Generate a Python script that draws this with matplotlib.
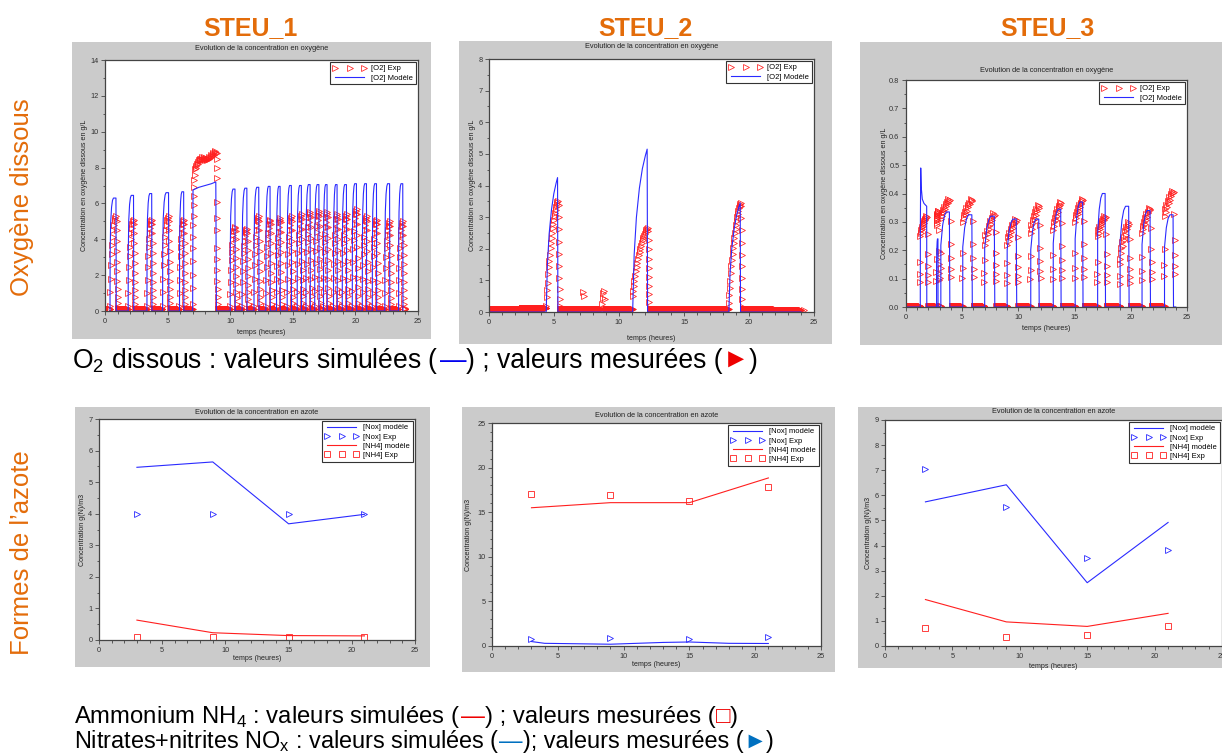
import numpy as np
import matplotlib.pyplot as plt
from matplotlib.patches import Rectangle
from matplotlib.ticker import MultipleLocator
from matplotlib import font_manager

plt.rcParams['font.family'] = ['Liberation Sans', 'DejaVu Sans']

W, H = 1222, 753
ORANGE = '#e36c0a'
GREY = '#cbcbcb'
BLUE = '#2a2aff'
RED = '#ff1f1f'

#%% ---------------- data --------------------------------------
# --- oxygen, STEU_1 : aeration cycles (h) and model / measured peaks (g/L)
o2_1_on = [0.4, 1.85, 3.35, 4.6, 5.95, 10.0, 10.95, 11.9, 12.85, 13.7, 14.55, 15.35,
           16.05, 16.75, 17.45, 18.25, 18.95, 19.75, 20.55, 21.35, 22.35, 23.45]
o2_1_off = [0.9, 2.3, 3.75, 5.1, 6.3, 10.4, 11.35, 12.3, 13.2, 14.0, 14.9, 15.7,
            16.4, 17.1, 17.75, 18.55, 19.3, 20.1, 20.9, 21.7, 22.75, 23.8]
o2_1_mod_peak = [6.3, 6.45, 6.55, 6.6, 6.65, 6.8, 6.85, 6.9, 6.95, 6.95, 7.0, 7.0,
                 7.05, 7.05, 7.05, 7.05, 7.05, 7.1, 7.1, 7.1, 7.1, 7.1]
o2_1_exp_peak = [5.3, 5.1, 5.1, 5.3, 5.1, 4.7, 4.6, 5.3, 5.1, 5.2, 5.3, 5.4,
                 5.5, 5.6, 5.5, 5.4, 5.4, 5.7, 5.3, 5.1, 5.0, 5.0]
o2_1_base = 0.13
# long aeration between 7 h and 9 h
o2_1_long_t = [7.0, 7.03, 7.5, 8.0, 8.5, 8.85, 8.9]
o2_1_long_mod = [0.0, 6.75, 6.9, 7.0, 7.1, 7.2, 0.0]
o2_1_long_rise = [0.4, 1.3, 2.0, 2.8, 3.5, 4.1, 4.8, 5.3, 5.9, 6.4, 6.9, 7.3]
o2_1_long_plateau = [7.6, 7.9, 8.1, 8.0, 8.2, 8.3, 8.2, 8.4, 8.5, 8.4, 8.5, 8.6, 8.5, 8.4,
                     8.5, 8.6, 8.5, 8.45, 8.55, 8.5, 8.4, 8.5, 8.6, 8.5, 8.55, 8.6, 8.7,
                     8.65, 8.75, 8.8, 8.7, 8.85, 8.9, 8.8]
o2_1_long_fall = [8.8, 8.5, 8.0, 7.4, 6.1, 5.2, 4.5, 3.5, 2.9, 2.3, 1.7, 1.2, 0.8, 0.4]

# --- oxygen, STEU_2
o2_2_on = [4.4, 11.05, 18.45]
o2_2_off = [5.3, 12.2, 19.35]
o2_2_mod_peak = [4.25, 5.15, 3.45]
o2_2_exp_lo = [0.2, 0.5, 0.3]
o2_2_exp_peak = [3.5, 2.65, 3.45]
o2_2_base_start = [0.0, 2.5, 5.45, 8.95, 12.45, 19.5, 22.0]
o2_2_base_end = [2.5, 4.4, 8.65, 11.05, 18.45, 22.0, 24.0]
o2_2_base_level = [0.09, 0.12, 0.11, 0.09, 0.09, 0.09, 0.06]
o2_2_blip_t = [7.25, 7.3, 8.7, 8.75, 8.8, 8.85, 8.9, 24.2]
o2_2_blip_v = [0.62, 0.52, 0.25, 0.45, 0.6, 0.65, 0.4, 0.05]

# --- oxygen, STEU_3
o2_3_on = [2.72, 3.1, 5.05, 7.0, 9.0, 11.1, 13.1, 15.05, 17.05, 19.05, 21.0, 23.0]
o2_3_off = [2.85, 3.9, 5.9, 7.9, 9.85, 11.85, 13.8, 15.75, 17.75, 19.85, 21.75, 23.8]
o2_3_mod_peak = [0.24, 0.335, 0.325, 0.32, 0.31, 0.31, 0.345, 0.37, 0.40, 0.355, 0.34, 0.325]
o2_3_first_t = [1.27, 1.28, 1.31, 1.36, 1.45, 1.6, 1.84, 1.85]
o2_3_first_mod = [0.0, 0.3, 0.49, 0.42, 0.38, 0.365, 0.355, 0.0]
o2_3_exp_on = [1.27] + o2_3_on
o2_3_exp_off = [1.85] + o2_3_off
o2_3_exp_lo = [0.25, 0.29, 0.31, 0.30, 0.22, 0.22, 0.26, 0.27, 0.30, 0.25, 0.17, 0.26, 0.32]
o2_3_exp_hi = [0.32, 0.34, 0.38, 0.38, 0.33, 0.31, 0.36, 0.37, 0.38, 0.32, 0.30, 0.35, 0.41]
o2_3_base = 0.004

# typical cycle shapes (fraction of cycle duration / fraction of peak)
shape_1_t = [0, 0.02, 0.1, 0.25, 0.4, 0.55, 0.95, 1.0]
shape_1_v = [0, 0.5, 0.78, 0.92, 0.98, 1.0, 1.0, 0]
shape_2_t = [0, 0.1, 0.25, 0.45, 0.65, 0.85, 0.97, 1.0]
shape_2_v = [0, 0.35, 0.58, 0.76, 0.88, 0.96, 1.0, 0]
shape_3_t = [0, 0.0, 0.2, 0.4, 0.6, 0.95, 1.0]
shape_3_v = [0, 0.65, 0.86, 0.96, 1.0, 1.0, 0]
# measured points inside a cycle (rise, then fall just after the aeration stops)
rise_1_t = [0.0, 0.05, 0.12, 0.2, 0.28, 0.36, 0.45, 0.55, 0.65, 0.75, 0.87, 1.0]
rise_1_v = [0.0, 0.15, 0.3, 0.45, 0.58, 0.68, 0.77, 0.84, 0.9, 0.95, 0.98, 1.0]
fall_1_dt = [0.03, 0.04, 0.05, 0.06, 0.07, 0.08, 0.09, 0.1, 0.11, 0.12, 0.13]
fall_1_v = [0.95, 0.85, 0.74, 0.63, 0.52, 0.42, 0.32, 0.23, 0.15, 0.08, 0.03]
rise_2_t = [0.0, 0.04, 0.08, 0.12, 0.17, 0.22, 0.27, 0.32, 0.37, 0.42, 0.47, 0.52,
            0.57, 0.62, 0.67, 0.72, 0.77, 0.82, 0.87, 0.92, 0.96, 1.0]
rise_2_v = [0.0, 0.08, 0.15, 0.22, 0.3, 0.37, 0.43, 0.49, 0.55, 0.6, 0.65, 0.7,
            0.74, 0.78, 0.82, 0.86, 0.89, 0.92, 0.95, 0.97, 0.99, 1.0]
fall_2_dt = [0.06, 0.07, 0.08, 0.09, 0.1, 0.11, 0.12, 0.13, 0.14, 0.15]
fall_2_v = [0.97, 0.86, 0.75, 0.63, 0.52, 0.42, 0.31, 0.21, 0.12, 0.05]
rise_3_t = [0.0, 0.08, 0.15, 0.22, 0.3, 0.38, 0.45, 0.52, 0.6, 0.68, 0.76, 0.84, 0.92, 1.0]
rise_3_v = [0.0, 0.3, 0.15, 0.45, 0.35, 0.6, 0.5, 0.75, 0.65, 0.85, 0.8, 1.0, 0.9, 0.95]
lead_3_dt = [-0.04, -0.02, 0.0]
lead_3_v = [0.27, 0.36, 0.5]
fall_3_dt = [0.08, 0.09, 0.1, 0.11, 0.12]
fall_3_v = [0.8, 0.58, 0.45, 0.35, 0.28]
step_meas = 1 / 60.0   # probe logging step (h)

# --- nitrogen
t_n = [3, 9, 15, 21]
nox_mod_1 = [5.47, 5.64, 3.68, 3.98]
nox_exp_1 = [4.0, 4.0, 4.0, 4.0]
nh4_mod_1 = [0.63, 0.23, 0.14, 0.13]
nh4_exp_1 = [0.09, 0.09, 0.09, 0.09]
t_nox_mod_2 = [3, 4, 9, 11, 13, 15, 18, 21]
nox_mod_2 = [0.5, 0.3, 0.2, 0.3, 0.4, 0.45, 0.3, 0.28]
nox_exp_2 = [0.75, 0.9, 0.82, 1.05]
nh4_mod_2 = [15.5, 16.07, 16.07, 18.84]
nh4_exp_2 = [17.05, 16.95, 16.3, 17.8]
nox_mod_3 = [5.74, 6.42, 2.52, 4.92]
nox_exp_3 = [7.05, 5.53, 3.52, 3.84]
nh4_mod_3 = [1.85, 0.96, 0.78, 1.3]
nh4_exp_3 = [0.73, 0.36, 0.45, 0.8]


#%% ---------------- helpers ----------------
def cycles_model(on, off, peak, tf, vf):
    segs = []
    for a, b, p in zip(on, off, peak):
        segs.append(([a + (b - a) * t for t in tf], [p * v for v in vf]))
    return segs


def join(segs):
    xs, ys = [], []
    for sx, sy in sorted(segs, key=lambda s: s[0][0]):
        xs += sx
        ys += sy
    return xs, ys


def cycles_exp(on, off, lo, hi, rt, rv, fdt, fv, ldt=(), lv=()):
    xs, ys = [], []
    for a, b, l, h in zip(on, off, lo, hi):
        xs += [a + d for d in ldt]
        ys += [h * v for v in lv]
        xs += [a + (b - a) * t for t in rt]
        ys += [l + (h - l) * v for v in rv]
        xs += [b + d for d in fdt]
        ys += [h * v for v in fv]
    return xs, ys


def baseline(starts, ends, levels):
    xs, ys = [], []
    for a, b, l in zip(starts, ends, levels):
        t = np.arange(a, b, step_meas)
        xs += list(t)
        ys += [l] * len(t)
    return xs, ys


fig = plt.figure(figsize=(W / 100, H / 100), dpi=100)

SMALL = 5.3


def panel(frame, box, ylim, ymaj, ymin, title, title_y, ylabel, ylabel_x, xlabel_y):
    gx0, gy0, gx1, gy1 = frame
    fig.patches.append(Rectangle((gx0 / W, 1 - gy1 / H), (gx1 - gx0) / W, (gy1 - gy0) / H,
                                 transform=fig.transFigure, facecolor=GREY, edgecolor='none',
                                 zorder=-5))
    x0, y0, x1, y1 = box
    ax = fig.add_axes([x0 / W, 1 - y1 / H, (x1 - x0) / W, (y1 - y0) / H])
    ax.set_zorder(3)
    ax.set_xlim(0, 25)
    ax.set_ylim(*ylim)
    ax.xaxis.set_major_locator(MultipleLocator(5))
    ax.xaxis.set_minor_locator(MultipleLocator(1))
    ax.yaxis.set_major_locator(MultipleLocator(ymaj))
    ax.yaxis.set_minor_locator(MultipleLocator(ymin))
    ax.tick_params(which='both', direction='out', top=False, right=False, width=0.6,
                   labelsize=SMALL, labelcolor='#333333', pad=1.5, color='#444444')
    ax.tick_params(which='major', length=3.2)
    ax.tick_params(which='minor', length=1.8)
    for s in ax.spines.values():
        s.set_linewidth(0.9)
        s.set_color('#444444')
    fig.text((x0 + x1) / 2 / W, 1 - title_y / H, title, ha='center', va='center',
             fontsize=SMALL, color='#222222', zorder=5)
    fig.text(ylabel_x / W, 1 - (y0 + y1) / 2 / H, ylabel, rotation=90, ha='center',
             va='center', fontsize=SMALL - 0.2, color='#222222', zorder=5)
    fig.text((x0 + x1) / 2 / W, 1 - xlabel_y / H, 'temps (heures)', ha='center',
             va='center', fontsize=SMALL - 0.2, color='#222222', zorder=5)
    return ax


def legend(ax):
    leg = ax.legend(loc='upper right', numpoints=3, fontsize=SMALL + 0.2, handlelength=4.4,
                    handletextpad=0.6, borderpad=0.35, labelspacing=0.25,
                    borderaxespad=0.3, fancybox=False, framealpha=1, edgecolor='#333333')
    leg.get_frame().set_linewidth(0.8)
    return leg


ms_o2 = dict(ls='none', marker='>', ms=3.8, mfc='none', mec=RED, mew=0.55)

#%% ---------------- oxygen panels ----------------
t_ox = 'Evolution de la concentration en oxygène'
y_ox = 'Concentration en oxygène dissous en g/L'

# STEU_1
ax = panel((72, 42, 431, 339), (105, 60, 418, 311), (0, 14), 2, 1, t_ox, 49, y_ox, 85, 332)
gaps_s = [0.3] + [b + 0.14 for b in o2_1_off[:5]] + [o2_1_long_t[-1] + 0.14] + \
         [b + 0.14 for b in o2_1_off[5:]]
gaps_e = o2_1_on[:5] + [o2_1_long_t[0]] + o2_1_on[5:] + [24.0]
bx, by = baseline(gaps_s, gaps_e, [o2_1_base] * len(gaps_s))
ex, ey = cycles_exp(o2_1_on, o2_1_off, [0.3] * len(o2_1_on), o2_1_exp_peak,
                    rise_1_t, rise_1_v, fall_1_dt, fall_1_v)
lx = [o2_1_long_t[0] + 0.01 * i for i in range(len(o2_1_long_rise))]
px = list(np.linspace(7.15, 8.85, len(o2_1_long_plateau)))
fx = [8.92 + 0.006 * i for i in range(len(o2_1_long_fall))]
ax.plot(bx + ex + lx + px + fx, by + ey + o2_1_long_rise + o2_1_long_plateau + o2_1_long_fall,
        label='[O2] Exp', **ms_o2)
segs = cycles_model(o2_1_on, o2_1_off, o2_1_mod_peak, shape_1_t, shape_1_v)
segs.append((o2_1_long_t, o2_1_long_mod))
mx, my = join(segs)
ax.plot(mx, my, color=BLUE, lw=0.8, label='[O2] Modèle')
legend(ax)

# STEU_2
ax = panel((459, 41, 832, 344), (489, 59, 814, 312), (0, 8), 1, 0.5, t_ox, 47, y_ox, 472, 338)
bx, by = baseline(o2_2_base_start, o2_2_base_end, o2_2_base_level)
ex, ey = cycles_exp(o2_2_on, o2_2_off, o2_2_exp_lo, o2_2_exp_peak,
                    rise_2_t, rise_2_v, fall_2_dt, fall_2_v)
ax.plot(bx + ex + o2_2_blip_t, by + ey + o2_2_blip_v, label='[O2] Exp', **ms_o2)
mx, my = join(cycles_model(o2_2_on, o2_2_off, o2_2_mod_peak, shape_2_t, shape_2_v))
ax.plot([0] + mx + [24.0], [0] + my + [0], color=BLUE, lw=0.8, label='[O2] Modèle')
legend(ax)

# STEU_3
ax = panel((860, 42, 1222, 345), (906, 80, 1187, 307), (0, 0.8), 0.1, 0.05, t_ox, 70, y_ox, 885, 328)
ax.yaxis.set_major_formatter(plt.FormatStrFormatter('%.1f'))
b_s = [0.0] + [b + 0.15 for b in o2_3_exp_off[:-1]]
b_e = o2_3_exp_on[:]
bx, by = baseline(b_s, b_e, [o2_3_base] * len(b_s))
ex, ey = cycles_exp(o2_3_exp_on, o2_3_exp_off, o2_3_exp_lo, o2_3_exp_hi,
                    rise_3_t, rise_3_v, fall_3_dt, fall_3_v, lead_3_dt, lead_3_v)
ax.plot(bx + ex, by + ey, label='[O2] Exp', **ms_o2)
segs = cycles_model(o2_3_on, o2_3_off, o2_3_mod_peak, shape_3_t, shape_3_v)
segs.append((o2_3_first_t, o2_3_first_mod))
mx, my = join(segs)
ax.plot([0] + mx + [24.0], [0] + my + [0], color=BLUE, lw=0.8, label='[O2] Modèle')
legend(ax)

#%% ---------------- nitrogen panels ----------------
t_az = 'Evolution de la concentration en azote'
y_az = 'Concentration g(N)/m3'
mk_nox = dict(ls='none', marker='>', ms=4.4, mfc='none', mec=BLUE, mew=0.6)
mk_nh4 = dict(ls='none', marker='s', ms=4.2, mfc='none', mec=RED, mew=0.6)

nitro = [
    ((75, 407, 430, 667), (99, 419, 415, 640), (0, 7), 1, 0.5, 413, 83, 658,
     t_n, nox_mod_1, nox_exp_1, nh4_mod_1, nh4_exp_1),
    ((462, 407, 835, 672), (492, 423, 821, 646), (0, 25), 5, 1, 416, 468, 665,
     t_nox_mod_2, nox_mod_2, nox_exp_2, nh4_mod_2, nh4_exp_2),
    ((858, 407, 1222, 668), (885, 420, 1222, 646), (0, 9), 1, 0.5, 412, 868, 666,
     t_n, nox_mod_3, nox_exp_3, nh4_mod_3, nh4_exp_3),
]
for frame, box, ylim, ymaj, ymin, ty, ylx, xly, tnm, nxm, nxe, nhm, nhe in nitro:
    ax = panel(frame, box, ylim, ymaj, ymin, t_az, ty, y_az, ylx, xly)
    ax.plot(tnm, nxm, color=BLUE, lw=0.8, label='[Nox] modèle')
    ax.plot(t_n, nxe, label='[Nox] Exp', **mk_nox)
    ax.plot(t_n, nhm, color=RED, lw=0.8, label='[NH4] modèle')
    ax.plot(t_n, nhe, label='[NH4] Exp', **mk_nh4)
    legend(ax)

#%% ---------------- headers and captions ----------------
for x, s in [(250, 'STEU_1'), (645, 'STEU_2'), (1047, 'STEU_3')]:
    fig.text(x / W, 1 - 35 / H, s, ha='center', va='baseline', fontsize=18,
             fontweight='bold', color=ORANGE)
fig.text(22 / W, 1 - 197 / H, 'Oxygène dissous', rotation=90, ha='center', va='center',
         fontsize=18.5, color=ORANGE)
fig.text(22 / W, 1 - 553 / H, 'Formes de l’azote', rotation=90, ha='center', va='center',
         fontsize=18.5, color=ORANGE)

names = {f.name for f in font_manager.fontManager.ttflist}
narrow = 'Liberation Sans'
for cand in ['Liberation Sans Narrow', 'DejaVu Sans Condensed']:
    if cand in names:
        narrow = cand
        break
renderer = fig.canvas.get_renderer()


def caption(x, y, pieces, target_w, family):
    size = 16.0
    fam = [family, 'DejaVu Sans']
    widths = []
    for txt, col in pieces:
        t = fig.text(0, 0, txt, fontsize=size, family=fam)
        widths.append(t.get_window_extent(renderer).width)
        t.remove()
    k = target_w / sum(widths)
    size *= k
    for (txt, col), w in zip(pieces, widths):
        fig.text(x / W, 1 - y / H, txt, color=col, fontsize=size, family=fam, va='baseline')
        x += w * k


caption(72, 368, [('O$_\\mathregular{2}$ dissous : valeurs simulées (', 'black'), ('—', '#0000ee'),
                  (') ; valeurs mesurées (', 'black'), ('►', '#ee0000'), (')', 'black')],
        686, 'Liberation Sans')
caption(74, 723, [('Ammonium NH$_\\mathregular{4}$ : valeurs simulées (', 'black'), ('—', '#ee0000'),
                  (') ; valeurs mesurées (', 'black'), ('□', '#ee0000'), (')', 'black')],
        664, narrow)
caption(74, 748, [('Nitrates+nitrites NO$_\\mathregular{x}$ : valeurs simulées (', 'black'),
                  ('—', '#0070c0'), ('); valeurs mesurées (', 'black'), ('►', '#0070c0'),
                  (')', 'black')],
        700, narrow)

fig.savefig('out.png', dpi=100)
